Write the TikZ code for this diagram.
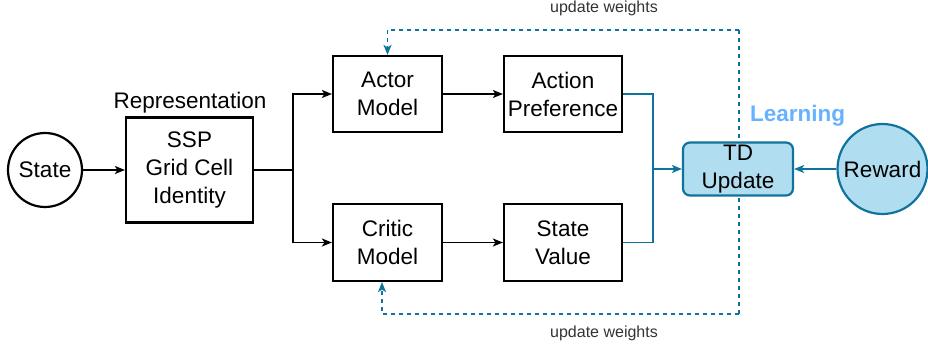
\documentclass[tikz,border=0pt]{standalone}
\usepackage{fontspec}
\setmainfont{Liberation Sans}
\usetikzlibrary{arrows.meta}
\definecolor{tdblue}{HTML}{10739E}
\definecolor{tdfill}{HTML}{B1DDF0}
\definecolor{learnblue}{HTML}{66B2FF}
\definecolor{notegray}{HTML}{333333}
\tikzset{
  txt/.style={font=\fontsize{22.5}{28}\selectfont, align=center, inner sep=0pt},
  box/.style={txt, draw=black, line width=2.2pt},
  circ/.style={txt, circle, draw=black, line width=2.2pt, minimum size=74pt},
  blbox/.style={txt, draw=tdblue, fill=tdfill, line width=2.2pt, rounded corners=7pt},
  blcirc/.style={txt, circle, draw=tdblue, fill=tdfill, line width=2.2pt, minimum size=90pt},
  tip/.style={-{Stealth[length=10pt,width=8pt,inset=2.5pt]}},
  arr/.style={tip, line width=1.6pt, black},
  bl/.style={line width=1.6pt, tdblue},
  blarr/.style={bl, tip},
  dsh/.style={line width=1.6pt, tdblue, dash pattern=on 4pt off 4pt},
  dsharr/.style={dsh, tip},
  note/.style={font=\fontsize{16}{19}\selectfont, text=notegray, inner sep=0pt}
}
\begin{document}
\begin{tikzpicture}[x=1pt,y=-1pt]
\useasboundingbox (0,0) rectangle (928,347);

% feedback path behind the TD box
\coordinate (dtop) at (739,30);
\coordinate (dbot) at (739,314);
\draw[dsh] (dtop) -- (dbot);

% nodes
\node[circ] (state) at (45,170) {State};
\node[box, minimum width=127pt, minimum height=105pt] (rep) at (189.5,170) {SSP\\Grid Cell\\Identity};
\node[txt, anchor=base] (replabel) at (190,109) {Representation};
\node[box, minimum width=109pt, minimum height=76pt] (actor) at (387.5,94) {Actor\\Model};
\node[box, minimum width=118pt, minimum height=76pt] (pref) at (563,94) {Action\\Preference};
\node[box, minimum width=109pt, minimum height=77pt] (critic) at (387.5,242.5) {Critic\\Model};
\node[box, minimum width=118pt, minimum height=77pt] (value) at (563,242.5) {State\\Value};
\node[blbox, minimum width=110pt, minimum height=53pt] (td) at (738,169) {TD\\Update};
\node[blcirc] (reward) at (882.5,169) {Reward};
\node[txt, font=\fontsize{22.5}{28}\bfseries, text=learnblue, anchor=base] (learn) at (797.5,121.5) {Learning};
\node[note] (uwtop) at (604,8) {update weights};
\node[note] (uwbot) at (604,333) {update weights};

% forward connectors
\coordinate (split) at (293,170);
\coordinate (merge) at (653,169);
\draw[arr] (state) -- (rep);
\draw[line width=1.6pt] (rep.east) -- (split);
\draw[arr] (split) |- (actor.west);
\draw[arr] (split) |- (critic.west);
\draw[arr] (actor) -- (pref);
\draw[arr] (critic) -- (value);
\draw[bl] (pref.east) -| (merge);
\draw[bl] (value.east) -| (merge);
\draw[blarr] (merge) -- (td.west);
\draw[blarr] (reward) -- (td);

% weight updates
\draw[dsharr] (dtop) -| (actor.north);
\draw[dsharr] (dbot) -| ([xshift=-5.5pt]critic.south);
\end{tikzpicture}
\end{document}
